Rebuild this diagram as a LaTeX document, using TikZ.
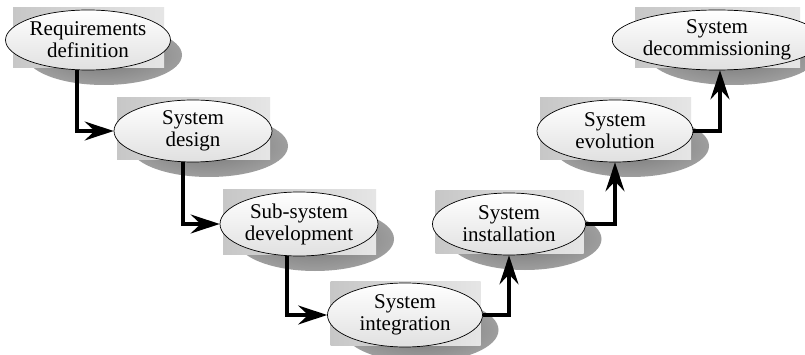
\documentclass[tikz,border=0pt]{standalone}
\usepackage{fontspec}
\setmainfont{Liberation Serif}
\usetikzlibrary{shapes.geometric,arrows.meta}
\tikzset{
  stagebox/.style={ellipse, draw=black, line width=0.7pt, inner sep=0pt,
    top color=white, bottom color=black!12, align=center,
    font=\fontsize{21pt}{22pt}\selectfont},
  arr/.style={line width=3.2pt, -{Stealth[length=29pt,width=19pt,inset=10pt]}},
  shadowc/.style={inner color=black!55, outer color=black!38},
  backc/.style={left color=black!22, middle color=white, right color=black!10}
}
\newcommand\stage[6]{%
  \shade[shadowc] (#2+16,#3+15) ellipse [x radius=#4pt/2, y radius=#5pt/2];
  \shade[backc] (#2-#4/2+3,#3-#5/2-2) rectangle (#2+#4/2-2,#3+#5/2-2);
  \node[stagebox, minimum width=#4pt, minimum height=#5pt] (#1) at (#2,#3) {#6};
}
\begin{document}
\begin{tikzpicture}[x=1pt,y=-1pt]
\useasboundingbox[fill=white] (0,0) rectangle (805,355);
\stage{n1}{88}{40}{156}{60}{Requirements\\definition}
\stage{n2}{193}{131}{158}{62}{System\\design}
\stage{n3}{299}{224}{158}{64}{Sub-system\\development}
\stage{n4}{405}{315}{155}{64}{System\\integration}
\stage{n5}{509}{224}{153}{62}{System\\installation}
\stage{n6}{615}{131}{156}{62}{System\\evolution}
\stage{n7}{717}{40}{170}{60}{System\\decommissioning}
\draw[arr] ([xshift=-11pt]n1.south) |- (n2.west);
\draw[arr] ([xshift=-10pt]n2.south) |- (n3.west);
\draw[arr] ([xshift=-12pt]n3.south) |- (n4.west);
\draw[arr] (n4.east) -| (n5.south);
\draw[arr] (n5.east) -| (n6.south);
\draw[arr] (n6.east) -| ([xshift=3pt]n7.south);
\end{tikzpicture}
\end{document}
